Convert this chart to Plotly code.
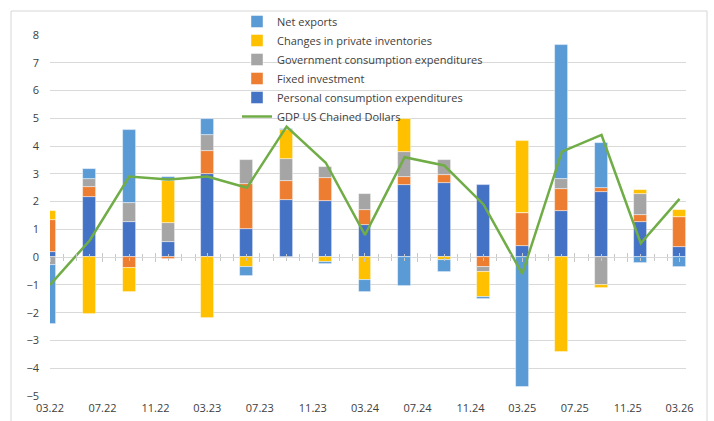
import plotly.graph_objects as go

# ---- data ----
dates = ["2022-03-01", "2022-06-01", "2022-09-01", "2022-12-01",
         "2023-03-01", "2023-06-01", "2023-09-01", "2023-12-01",
         "2024-03-01", "2024-06-01", "2024-09-01", "2024-12-01",
         "2025-03-01", "2025-06-01", "2025-09-01", "2025-12-01",
         "2026-03-01"]
pce = [0.20, 2.18, 1.25, 0.53, 2.98, 1.00, 2.06, 2.04, 1.16, 2.59, 2.66, 2.60, 0.41, 1.67, 2.33, 1.28, 0.35]
fixed_inv = [1.14, 0.34, -0.40, -0.08, 0.86, 1.64, 0.70, 0.81, 0.54, 0.29, 0.29, -0.36, 1.19, 0.77, 0.15, 0.25, 1.11]
gov = [-0.28, 0.29, 0.71, 0.69, 0.55, 0.86, 0.79, 0.41, 0.58, 0.91, 0.55, -0.16, 0.0, 0.38, -1.00, 0.76, 0.0]
inventories = [0.31, -2.04, -0.86, 1.51, -2.20, -0.37, 1.03, -0.17, -0.84, 1.17, -0.12, -0.92, 2.59, -3.43, -0.12, 0.13, 0.24]
net_exports = [-2.13, 0.38, 2.62, 0.16, 0.58, -0.30, 0.05, -0.06, -0.41, -1.03, -0.40, -0.06, -4.69, 4.83, 1.62, -0.22, -0.37]
gdp = [-1.0, 0.6, 2.9, 2.8, 2.9, 2.5, 4.7, 3.4, 0.8, 3.6, 3.3, 1.9, -0.6, 3.8, 4.4, 0.5, 2.1]

series = [
    ("Personal consumption expenditures", pce, "#4472C4", 5),
    ("Fixed investment", fixed_inv, "#ED7D31", 4),
    ("Government consumption expenditures", gov, "#A5A5A5", 3),
    ("Changes in private inventories", inventories, "#FFC000", 2),
    ("Net exports", net_exports, "#5B9BD5", 1),
]

BAR_W = 30 * 24 * 3600 * 1000  # ~one month in ms

fig = go.Figure()
for name, vals, col, rank in series:
    fig.add_trace(go.Bar(
        x=dates, y=vals, name=name, width=BAR_W,
        marker=dict(color=col, line=dict(color="rgba(255,255,255,0.55)", width=0.8)),
        legendrank=rank,
    ))
fig.add_trace(go.Scatter(
    x=dates, y=gdp, name="GDP US Chained Dollars", mode="lines",
    line=dict(color="#70AD47", width=2.5), legendrank=6,
))
# invisible helper traces so the tick-mark axes at zero get drawn
fig.add_trace(go.Scatter(x=[], y=[], xaxis="x2", showlegend=False, hoverinfo="skip"))
fig.add_trace(go.Scatter(x=[], y=[], xaxis="x3", showlegend=False, hoverinfo="skip"))

W, H = 714, 421
ML, MR, MT, MB = 50, 28, 35, 25
PW, PH = W - ML - MR, H - MT - MB
YMIN, YMAX = -5, 8
zero_pos = (0 - YMIN) / (YMAX - YMIN)

font = dict(family="Open Sans, Noto Sans, sans-serif", size=11, color="#404040")
xrange = ["2022-03-01", "2026-03-16"]

tick_axis_common = dict(
    type="date", overlaying="x", matches="x", anchor="free", position=zero_pos,
    showticklabels=False, showgrid=False, showline=False, zeroline=False,
    tick0="2022-03-01", dtick="M4", ticklen=4, tickcolor="#c8c8c8", tickwidth=1,
)

fig.update_layout(
    width=W, height=H,
    margin=dict(l=ML, r=MR, t=MT, b=MB, autoexpand=False),
    paper_bgcolor="white", plot_bgcolor="white",
    barmode="relative", bargap=0,
    font=font,
    showlegend=True,
    legend=dict(
        xref="container", yref="container",
        x=237 / W, y=1 - 7 / H, xanchor="left", yanchor="top",
        bgcolor="rgba(0,0,0,0)", font=font, itemwidth=30, tracegroupgap=0,
    ),
    xaxis=dict(
        type="date", range=xrange, tick0="2022-03-01", dtick="M4",
        tickformat="%m.%y", ticks="", showgrid=False, showline=False,
        zeroline=False, ticklabelstandoff=4, tickfont=font, automargin=False,
    ),
    xaxis2=dict(ticks="outside",
                minor=dict(ticks="outside", dtick="M1", tick0="2022-03-01", ticklen=3,
                           tickcolor="#c8c8c8", showgrid=False),
                **tick_axis_common),
    xaxis3=dict(ticks="inside",
                minor=dict(ticks="inside", dtick="M1", tick0="2022-03-01", ticklen=3,
                           tickcolor="#c8c8c8", showgrid=False),
                **tick_axis_common),
    yaxis=dict(
        range=[YMIN, YMAX], dtick=1, showgrid=True, gridcolor="#d9d9d9", gridwidth=1,
        zeroline=True, zerolinecolor="#d9d9d9", zerolinewidth=1,
        showline=False, ticks="", ticklabelstandoff=10, tickfont=font, automargin=False,
    ),
    shapes=[dict(
        type="rect", xref="paper", yref="paper",
        x0=(11 - ML) / PW, x1=(707 - ML) / PW,
        y0=-(440 - (H - MB)) / PH,
        y1=1 + (MT - 11) / PH,
        line=dict(color="#d6d6d6", width=1), fillcolor="rgba(0,0,0,0)", layer="below",
    )],
)

fig.write_html("out.html")
